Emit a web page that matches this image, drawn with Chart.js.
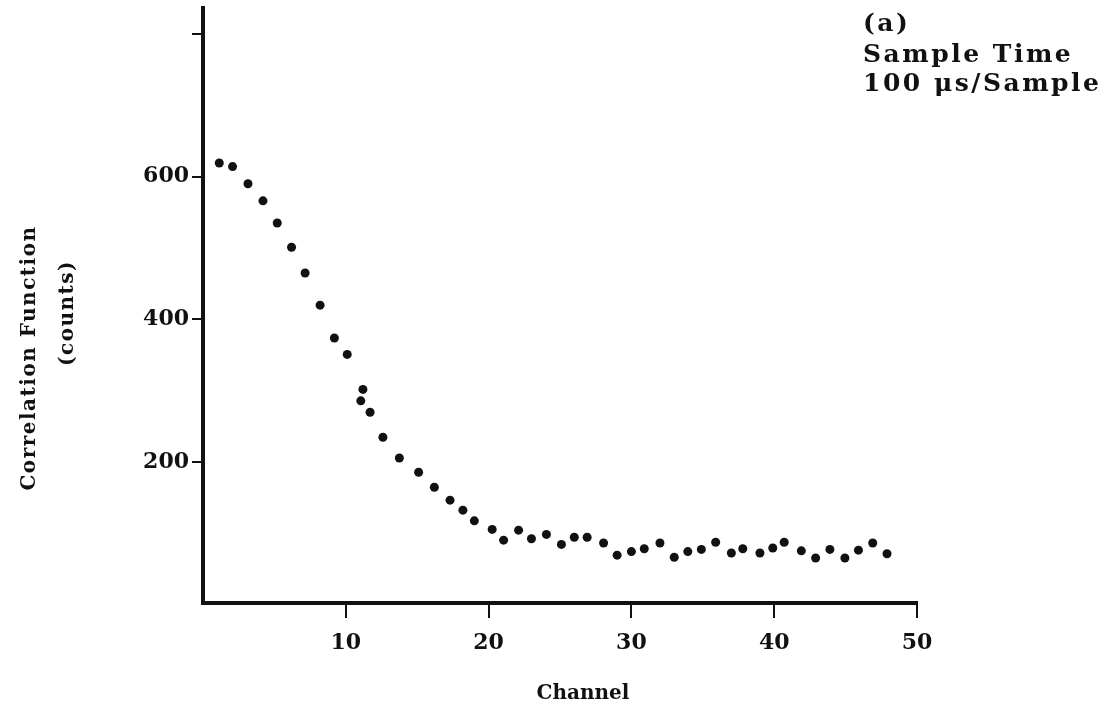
<!DOCTYPE html>
<html>
<head>
<meta charset="utf-8">
<script src="https://cdn.jsdelivr.net/npm/chart.js@4.4.1/dist/chart.umd.min.js"></script>
<style>
  html, body { margin: 0; padding: 0; background: #fff; }
  #wrap { width: 1111px; height: 721px; position: relative; }
</style>
</head>
<body>
<div id="wrap"><canvas id="c" width="1111" height="721"></canvas></div>
<script>
// ---- Data ----
const channels = [1.14, 2.07, 3.15, 4.2, 5.2, 6.2, 7.15, 8.2, 9.2, 10.1,
  11.2, 11.05, 11.7, 12.6, 13.75, 15.1, 16.2, 17.3, 18.2, 19.0,
  20.25, 21.05, 22.1, 23.0, 24.05, 25.1, 26.0, 26.9, 28.05, 29.0,
  30.0, 30.9, 32.0, 33.0, 33.95, 34.9, 35.9, 37.0, 37.8, 39.0,
  39.9, 40.7, 41.9, 42.9, 43.9, 44.95, 45.9, 46.9, 47.9];
const counts = [619, 614, 590, 566, 535, 501, 465, 420, 374, 351,
  302, 286, 270, 235, 206, 186, 165, 147, 133, 118,
  106, 91, 105, 93, 99, 85, 95, 95, 87, 70,
  75, 79, 87, 67, 75, 78, 88, 73, 79, 73,
  80, 88, 76, 66, 78, 66, 77, 87, 72];
const xTicks = [10, 20, 30, 40, 50];
const yTicks = [200, 400, 600, 800];
const yTickLabels = ['200', '400', '600', ''];
const xTitle = 'Channel';
const yTitleLines = ['Correlation Function', '(counts)'];
const noteLines = ['(a)', 'Sample Time', '100 \u03bcs/Sample'];

const FONT = '"DejaVu Serif", serif';
const INK = '#111';

const points = channels.map((x, i) => ({ x: x, y: counts[i] }));

const textPlugin = {
  id: 'texts',
  afterDraw(chart) {
    const ctx = chart.ctx;
    ctx.save();
    ctx.fillStyle = INK;
    // y-axis title (rotated, two lines)
    ctx.font = 'bold 20px ' + FONT;
    ctx.textAlign = 'center';
    ctx.textBaseline = 'middle';
    const yPos = [[30, 358], [68, 313]];
    yTitleLines.forEach((t, i) => {
      ctx.save();
      ctx.translate(yPos[i][0], yPos[i][1]);
      ctx.rotate(-Math.PI / 2);
      ctx.letterSpacing = '1.5px';
      ctx.fillText(t, 0, 0);
      ctx.restore();
    });
    // x-axis title
    ctx.font = 'bold 20px ' + FONT;
    ctx.textAlign = 'center';
    ctx.textBaseline = 'alphabetic';
    ctx.letterSpacing = '0px';
    ctx.fillText(xTitle, 583, 699);
    // annotation
    ctx.font = 'bold 25px ' + FONT;
    ctx.textAlign = 'left';
    ctx.textBaseline = 'alphabetic';
    ctx.letterSpacing = '2.5px';
    const ys = [31, 62, 91];
    noteLines.forEach((t, i) => ctx.fillText(t, 863, ys[i]));
    ctx.restore();
  }
};

new Chart(document.getElementById('c'), {
  type: 'scatter',
  data: {
    datasets: [{
      data: points,
      backgroundColor: INK,
      borderColor: INK,
      pointRadius: 4.5,
      pointHoverRadius: 4.5,
      borderWidth: 0
    }]
  },
  options: {
    responsive: false,
    animation: false,
    events: [],
    layout: { padding: { top: 8, right: 194, left: 0, bottom: 0 } },
    plugins: { legend: { display: false }, tooltip: { enabled: false } },
    scales: {
      x: {
        type: 'linear',
        min: 0, max: 50,
        afterBuildTicks: s => { s.ticks = xTicks.map(v => ({ value: v })); },
        afterFit: s => { s.height = 118; s.paddingLeft = 0; s.paddingRight = 0; },
        border: { display: true, color: INK, width: 4 },
        grid: { display: true, drawOnChartArea: false, drawTicks: true, tickLength: 15, color: INK, lineWidth: 2 },
        ticks: { color: INK, font: { family: FONT, size: 22, weight: 'bold' }, padding: 12, maxRotation: 0 },
        title: { display: false, text: xTitle }
      },
      y: {
        type: 'linear',
        min: 3, max: 836,
        afterBuildTicks: s => { s.ticks = yTicks.map(v => ({ value: v })); },
        afterFit: s => { s.width = 203; s.paddingTop = 0; s.paddingBottom = 0; },
        border: { display: true, color: INK, width: 4 },
        grid: { display: true, drawOnChartArea: false, drawTicks: true, tickLength: 11, color: INK, lineWidth: 2 },
        ticks: {
          color: INK, font: { family: FONT, size: 22, weight: 'bold' }, padding: 3,
          callback: (v) => { const i = yTicks.indexOf(v); return i >= 0 ? yTickLabels[i] : ''; }
        }
      }
    }
  },
  plugins: [textPlugin]
});
</script>
</body>
</html>
